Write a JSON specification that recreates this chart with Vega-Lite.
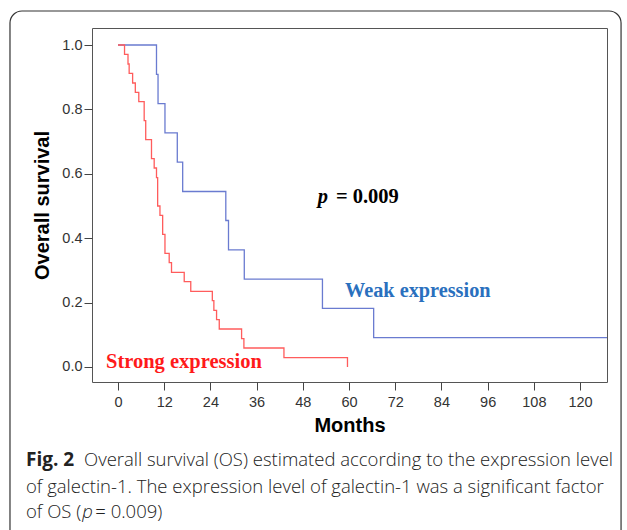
{
  "$schema": "https://vega.github.io/schema/vega-lite/v6.json",
  "width": 515,
  "height": 354,
  "autosize": {"type": "none"},
  "padding": {"left": 92, "top": 28, "right": 20, "bottom": 148},
  "background": "white",
  "config": {
    "view": {"stroke": "#555555", "strokeWidth": 1},
    "axis": {
      "domain": false,
      "grid": false,
      "tickColor": "#444444",
      "tickSize": 8,
      "labelFont": "Liberation Sans",
      "labelFontSize": 14.5,
      "labelColor": "#333333",
      "titleFont": "Liberation Sans",
      "titleFontSize": 20,
      "titleFontWeight": "bold",
      "titleColor": "#000000"
    }
  },
  "layer": [
    {
      "data": {"values": [{}]},
      "mark": {"type": "rect", "fill": null, "fillOpacity": 0, "stroke": "#333333", "strokeWidth": 1.2, "cornerRadius": 12},
      "encoding": {
        "x": {"datum": -28.05, "type": "quantitative"},
        "x2": {"datum": 130.65},
        "y": {"datum": 1.1056, "type": "quantitative"},
        "y2": {"datum": -0.5528}
      }
    },
    {
      "data": {
        "values": [
          {"group": "Weak", "month": 0, "survival": 1.0},
          {"group": "Weak", "month": 10.0, "survival": 0.909},
          {"group": "Weak", "month": 10.4, "survival": 0.818},
          {"group": "Weak", "month": 12.2, "survival": 0.727},
          {"group": "Weak", "month": 15.4, "survival": 0.636},
          {"group": "Weak", "month": 16.8, "survival": 0.545},
          {"group": "Weak", "month": 28.0, "survival": 0.455},
          {"group": "Weak", "month": 28.7, "survival": 0.364},
          {"group": "Weak", "month": 32.8, "survival": 0.273},
          {"group": "Weak", "month": 53.1, "survival": 0.182},
          {"group": "Weak", "month": 66.4, "survival": 0.091},
          {"group": "Weak", "month": 127, "survival": 0.091},
          {"group": "Strong", "month": 0, "survival": 1.0},
          {"group": "Strong", "month": 1.7, "survival": 0.971},
          {"group": "Strong", "month": 2.6, "survival": 0.941},
          {"group": "Strong", "month": 2.9, "survival": 0.912},
          {"group": "Strong", "month": 3.8, "survival": 0.882},
          {"group": "Strong", "month": 4.5, "survival": 0.853},
          {"group": "Strong", "month": 5.4, "survival": 0.824},
          {"group": "Strong", "month": 6.8, "survival": 0.765},
          {"group": "Strong", "month": 7.2, "survival": 0.706},
          {"group": "Strong", "month": 8.7, "survival": 0.647},
          {"group": "Strong", "month": 9.4, "survival": 0.618},
          {"group": "Strong", "month": 10.0, "survival": 0.588},
          {"group": "Strong", "month": 10.3, "survival": 0.5},
          {"group": "Strong", "month": 10.9, "survival": 0.471},
          {"group": "Strong", "month": 11.6, "survival": 0.412},
          {"group": "Strong", "month": 12.2, "survival": 0.353},
          {"group": "Strong", "month": 13.3, "survival": 0.324},
          {"group": "Strong", "month": 13.9, "survival": 0.294},
          {"group": "Strong", "month": 17.2, "survival": 0.265},
          {"group": "Strong", "month": 18.9, "survival": 0.235},
          {"group": "Strong", "month": 24.5, "survival": 0.206},
          {"group": "Strong", "month": 24.9, "survival": 0.176},
          {"group": "Strong", "month": 25.6, "survival": 0.147},
          {"group": "Strong", "month": 26.3, "survival": 0.118},
          {"group": "Strong", "month": 32.1, "survival": 0.088},
          {"group": "Strong", "month": 32.7, "survival": 0.059},
          {"group": "Strong", "month": 43.1, "survival": 0.029},
          {"group": "Strong", "month": 59.6, "survival": 0.0}
        ]
      },
      "mark": {"type": "line", "interpolate": "step-after", "strokeWidth": 1.3},
      "encoding": {
        "x": {
          "field": "month", "type": "quantitative",
          "scale": {"domain": [-6.75, 127], "nice": false, "zero": false},
          "axis": {"values": [0, 12, 24, 36, 48, 60, 72, 84, 96, 108, 120], "title": "Months", "titlePadding": 7, "labelPadding": 5}
        },
        "y": {
          "field": "survival", "type": "quantitative",
          "scale": {"domain": [-0.0466, 1.0528], "nice": false, "zero": false},
          "axis": {"values": [0, 0.2, 0.4, 0.6, 0.8, 1.0], "format": ".1f", "title": "Overall survival", "titlePadding": 9, "labelPadding": 2}
        },
        "color": {
          "field": "group", "type": "nominal",
          "scale": {"domain": ["Weak", "Strong"], "range": ["#6a7bd0", "#ff5c5c"]},
          "legend": null
        }
      }
    },
    {
      "data": {"values": [{}]},
      "mark": {"type": "text", "text": "p", "font": "Liberation Serif", "fontSize": 20.5, "fontWeight": "bold", "fontStyle": "italic", "align": "left", "baseline": "middle", "color": "#000000"},
      "encoding": {"x": {"datum": 51.9, "type": "quantitative"}, "y": {"datum": 0.528, "type": "quantitative"}}
    },
    {
      "data": {"values": [{}]},
      "mark": {"type": "text", "text": "= 0.009", "font": "Liberation Serif", "fontSize": 20.5, "fontWeight": "bold", "align": "left", "baseline": "middle", "color": "#000000"},
      "encoding": {"x": {"datum": 56.6, "type": "quantitative"}, "y": {"datum": 0.528, "type": "quantitative"}}
    },
    {
      "data": {"values": [{}]},
      "mark": {"type": "text", "text": "Weak expression", "font": "Liberation Serif", "fontSize": 20.3, "fontWeight": "bold", "align": "left", "baseline": "middle", "color": "#2a70be"},
      "encoding": {"x": {"datum": 58.96, "type": "quantitative"}, "y": {"datum": 0.236, "type": "quantitative"}}
    },
    {
      "data": {"values": [{}]},
      "mark": {"type": "text", "text": "Strong expression", "font": "Liberation Serif", "fontSize": 20.5, "fontWeight": "bold", "align": "left", "baseline": "middle", "color": "#ff1a1a"},
      "encoding": {"x": {"datum": -3.12, "type": "quantitative"}, "y": {"datum": 0.0155, "type": "quantitative"}}
    },
    {
      "data": {"values": [{}]},
      "mark": {"type": "text", "text": "Fig. 2", "font": "Open Sans", "fontSize": 19, "fontWeight": "bold", "align": "left", "baseline": "middle", "color": "#222222"},
      "encoding": {"x": {"datum": -23.9, "type": "quantitative"}, "y": {"datum": -0.2888, "type": "quantitative"}}
    },
    {
      "data": {"values": [{}]},
      "mark": {"type": "text", "text": "Overall survival (OS) estimated according to the expression level", "font": "Open Sans", "fontSize": 18.5, "fontWeight": 300, "align": "left", "baseline": "middle", "color": "#222222"},
      "encoding": {"x": {"datum": -8.83, "type": "quantitative"}, "y": {"datum": -0.2888, "type": "quantitative"}}
    },
    {
      "data": {"values": [{}]},
      "mark": {"type": "text", "text": "of galectin-1. The expression level of galectin-1 was a significant factor", "font": "Open Sans", "fontSize": 18.5, "fontWeight": 300, "align": "left", "baseline": "middle", "color": "#222222"},
      "encoding": {"x": {"datum": -23.9, "type": "quantitative"}, "y": {"datum": -0.3717, "type": "quantitative"}}
    },
    {
      "data": {"values": [{}]},
      "mark": {"type": "text", "text": "of OS (", "font": "Open Sans", "fontSize": 18.5, "fontWeight": 300, "align": "left", "baseline": "middle", "color": "#222222"},
      "encoding": {"x": {"datum": -23.9, "type": "quantitative"}, "y": {"datum": -0.4494, "type": "quantitative"}}
    },
    {
      "data": {"values": [{}]},
      "mark": {"type": "text", "text": "p", "font": "Open Sans", "fontSize": 18.5, "fontWeight": 300, "fontStyle": "italic", "align": "left", "baseline": "middle", "color": "#222222"},
      "encoding": {"x": {"datum": -9.3, "type": "quantitative"}, "y": {"datum": -0.4494, "type": "quantitative"}}
    },
    {
      "data": {"values": [{}]},
      "mark": {"type": "text", "text": "= 0.009)", "font": "Open Sans", "fontSize": 18.5, "fontWeight": 300, "align": "left", "baseline": "middle", "color": "#222222"},
      "encoding": {"x": {"datum": -5.9, "type": "quantitative"}, "y": {"datum": -0.4494, "type": "quantitative"}}
    }
  ]
}
